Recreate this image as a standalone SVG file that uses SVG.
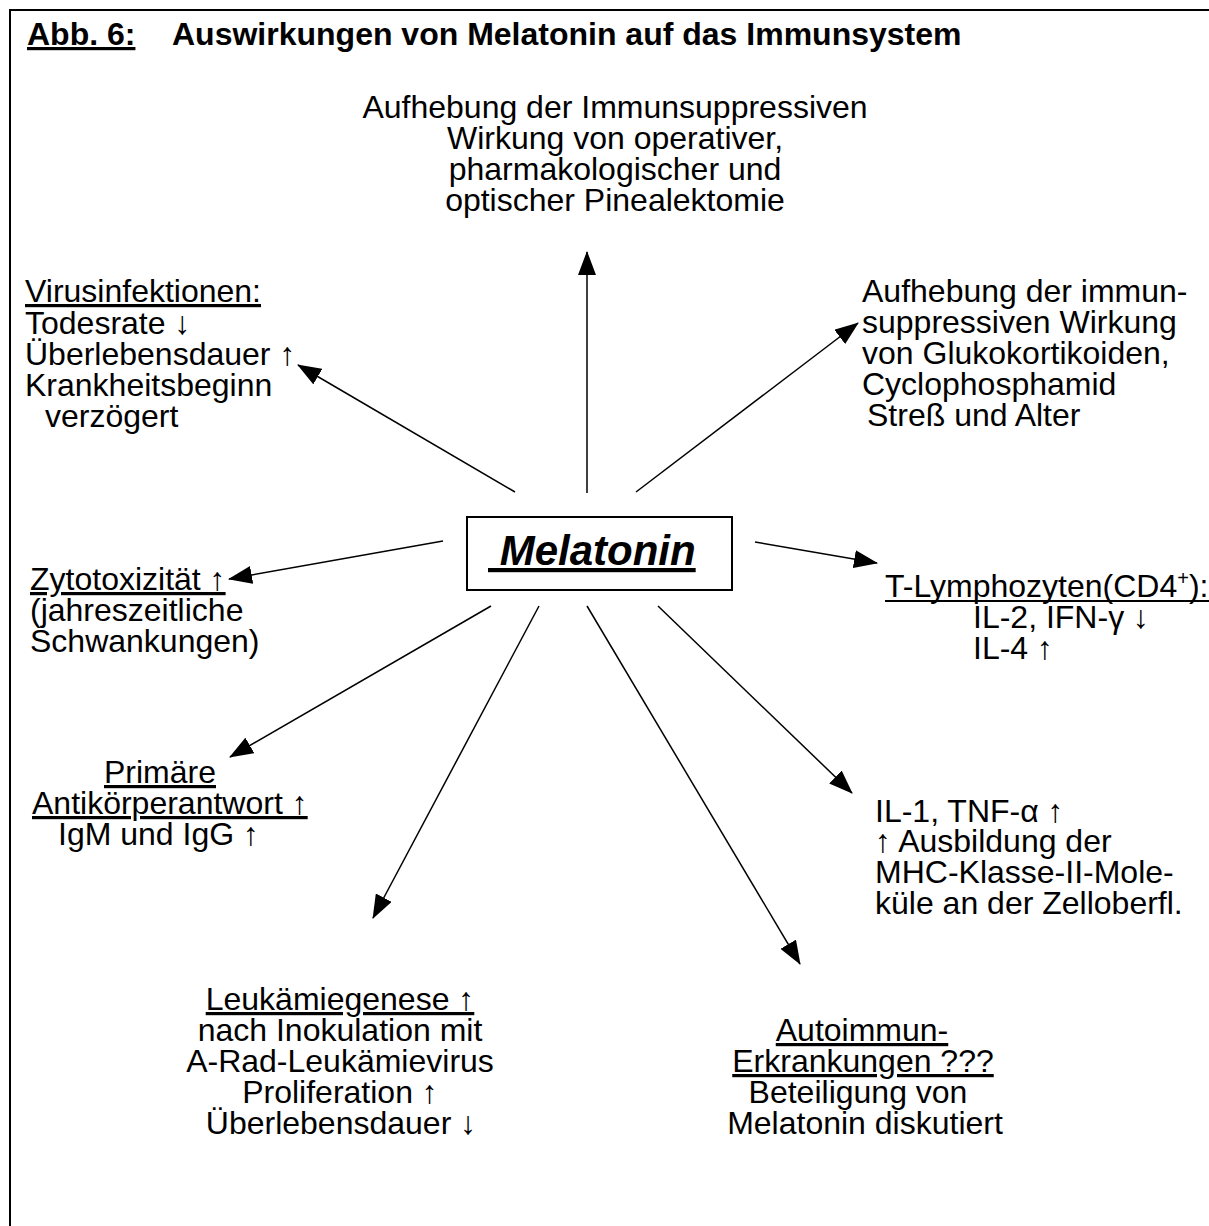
<svg xmlns="http://www.w3.org/2000/svg" width="1209" height="1226" viewBox="0 0 1209 1226">
<style>
text{font-family:"Liberation Sans",Arial,sans-serif;font-size:32px;fill:#000}
.title{font-weight:bold}
.u{text-decoration:underline}
.mel{font-weight:bold;font-style:italic;font-size:42px}
.mid{text-anchor:middle}
.ul{stroke:#000;stroke-width:2}
.conn line{stroke:#000;stroke-width:1.5;fill:none}
</style>
<defs>
<marker id="ah" markerUnits="userSpaceOnUse" markerWidth="24" markerHeight="18" refX="23" refY="9" orient="auto">
<path d="M0,0 L24,9 L0,18 z" fill="#000"/>
</marker>
</defs>
<rect width="1209" height="1226" fill="#fff"/>
<path d="M10,1226 V10 H1209" fill="none" stroke="#000" stroke-width="2"/>
<g id="title">
<text class="title u" x="27" y="45">Abb. 6:</text>
<text class="title" x="172" y="45">Auswirkungen von Melatonin auf das Immunsystem</text>
</g>
<g id="melatonin">
<rect x="467" y="517" width="265" height="73" fill="#fff" stroke="#000" stroke-width="2"/>
<text class="mel u" x="488" y="565" xml:space="preserve"> Melatonin</text>
</g>
<g id="n-pinealektomie">
<text class="mid" x="615" y="118">Aufhebung der Immunsuppressiven</text>
<text class="mid" x="615" y="149">Wirkung von operativer,</text>
<text class="mid" x="615" y="180">pharmakologischer und</text>
<text class="mid" x="615" y="211">optischer Pinealektomie</text>
</g>
<g id="n-virus">
<text class="u" x="25" y="302">Virusinfektionen:</text>
<text x="25" y="334">Todesrate ↓</text>
<text x="25" y="365">Überlebensdauer ↑</text>
<text x="25" y="396">Krankheitsbeginn</text>
<text x="45" y="427">verzögert</text>
</g>
<g id="n-glukokortikoide">
<text x="862" y="302">Aufhebung der immun-</text>
<text x="862" y="333">suppressiven Wirkung</text>
<text x="862" y="364">von Glukokortikoiden,</text>
<text x="862" y="395">Cyclophosphamid</text>
<text x="867" y="426">Streß und Alter</text>
</g>
<g id="n-zytotoxizitaet">
<text class="u" x="30" y="590">Zytotoxizität ↑</text>
<text x="30" y="621">(jahreszeitliche</text>
<text x="30" y="652">Schwankungen)</text>
</g>
<g id="n-tlymphozyten">
<text x="885" y="597">T-Lymphozyten(CD4<tspan font-size="20" dy="-12">+</tspan><tspan dy="12">):</tspan></text>
<line class="ul" x1="885" y1="601" x2="1209" y2="601"/>
<text x="973" y="628">IL-2, IFN-γ ↓</text>
<text x="973" y="659">IL-4 ↑</text>
</g>
<g id="n-antikoerper">
<text class="u mid" x="160" y="783">Primäre</text>
<text class="u" x="32" y="814">Antikörperantwort ↑</text>
<text x="58" y="845">IgM und IgG ↑</text>
</g>
<g id="n-il1">
<text x="875" y="822">IL-1, TNF-α ↑</text>
<text x="875" y="852">↑ Ausbildung der</text>
<text x="875" y="883">MHC-Klasse-II-Mole-</text>
<text x="875" y="914">küle an der Zelloberfl.</text>
</g>
<g id="n-leukaemie">
<text class="u mid" x="340" y="1010">Leukämiegenese ↑</text>
<text class="mid" x="340" y="1041">nach Inokulation mit</text>
<text class="mid" x="340" y="1072">A-Rad-Leukämievirus</text>
<text class="mid" x="340" y="1103">Proliferation ↑</text>
<text class="mid" x="341" y="1134">Überlebensdauer ↓</text>
</g>
<g id="n-autoimmun">
<text class="u mid" x="862" y="1041">Autoimmun-</text>
<text class="u mid" x="863" y="1072">Erkrankungen ???</text>
<text class="mid" x="858" y="1103">Beteiligung von</text>
<text class="mid" x="865" y="1134">Melatonin diskutiert</text>
</g>
<g id="connectors" class="conn">
<line x1="587" y1="493" x2="587" y2="252" marker-end="url(#ah)"/>
<line x1="515" y1="492" x2="298" y2="365" marker-end="url(#ah)"/>
<line x1="636" y1="492" x2="858" y2="323" marker-end="url(#ah)"/>
<line x1="443" y1="541" x2="229" y2="579" marker-end="url(#ah)"/>
<line x1="755" y1="542" x2="877" y2="563" marker-end="url(#ah)"/>
<line x1="491" y1="606" x2="230" y2="757" marker-end="url(#ah)"/>
<line x1="539" y1="606" x2="373" y2="918" marker-end="url(#ah)"/>
<line x1="587" y1="606" x2="800" y2="964" marker-end="url(#ah)"/>
<line x1="658" y1="606" x2="852" y2="793" marker-end="url(#ah)"/>
</g>
</svg>
